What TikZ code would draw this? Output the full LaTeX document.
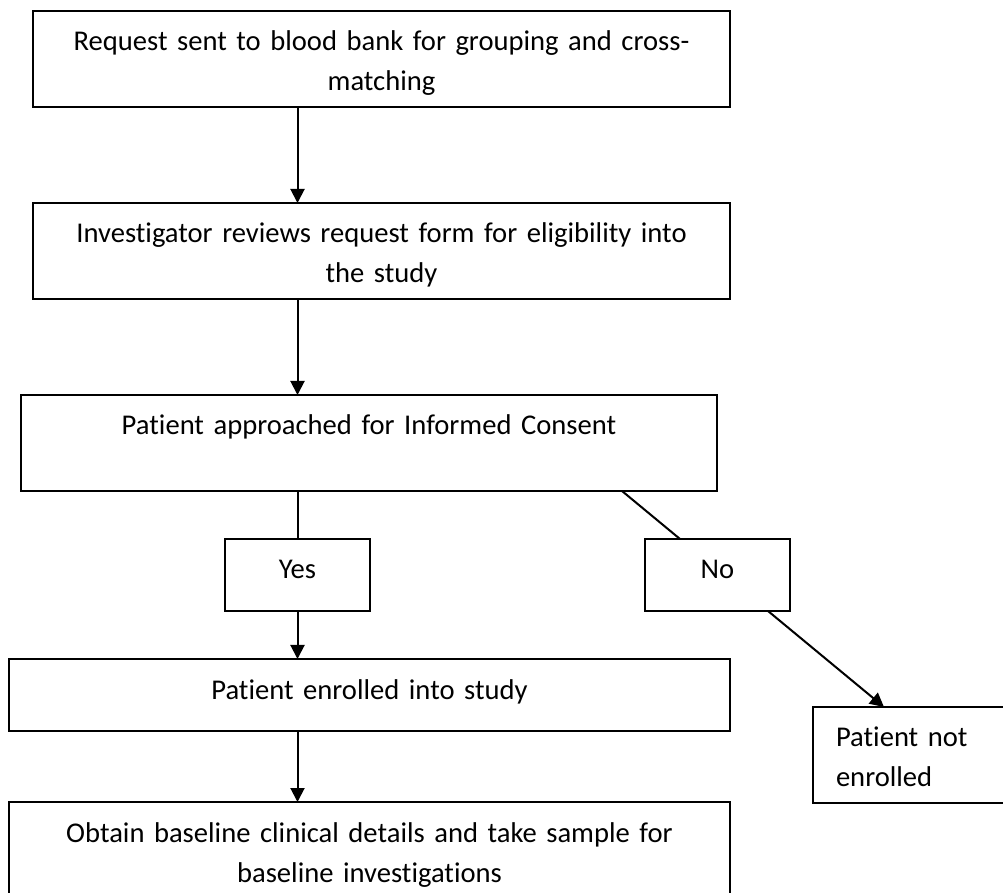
\documentclass[tikz,border=0pt]{standalone}
\usepackage{fontspec}
\setmainfont{Carlito}[Ligatures=NoCommon]
\usepackage{tikz}
\usetikzlibrary{positioning, arrows.meta}

\begin{document}
\begin{tikzpicture}[
    x=0.5pt, y=-0.5pt,
    font=\fontsize{14.3}{20}\selectfont,
    stepbox/.style={
        rectangle, draw=black, line width=1pt,
        inner xsep=0pt, inner ysep=0pt, outer sep=0pt,
        text height=20pt, text depth=28pt,
        align=center
    },
    answer/.style={
        stepbox, text width=72.5pt, text depth=16pt
    },
    link/.style={line width=1pt},
    arrow/.style={-{Triangle[length=7pt, width=7pt]}, line width=1pt},
]
\useasboundingbox (0,0) rectangle (1003,893);

% ---------- Request ----------
\node[stepbox, text width=348.5pt, anchor=north] (request) at (381.5,11)
    {Request sent to blood bank for grouping and cross-\\matching};

% ---------- Eligibility review ----------
\node[stepbox, text width=348.5pt, below=48pt of request] (review)
    {Investigator reviews request form for eligibility into\\the study};

% ---------- Consent ----------
\node[stepbox, text width=348pt, below=48pt of review, xshift=-6.25pt] (consent)
    {Patient approached for Informed Consent};

% ---------- Answers ----------
\node[answer, below=24pt of consent, xshift=-35.75pt] (yes) {Yes};
\node[answer, right=137.5pt of yes] (no) {No};

% ---------- Outcomes ----------
\node[stepbox, text width=360.5pt, text depth=16pt, below=24pt of yes, xshift=36pt] (enrolled)
    {Patient enrolled into study};
\node[stepbox, text width=360.5pt, below=35.5pt of enrolled] (baseline)
    {Obtain baseline clinical details and take sample for\\baseline investigations};
\node[stepbox, text width=73.5pt, inner xsep=11.5pt, align=left,
      below=48pt of no, xshift=96pt] (notenrolled)
    {Patient not\\enrolled};

% ---------- Arrows ----------
\draw[arrow] (request.south -| yes) -- (review.north -| yes);
\draw[arrow] (review.south -| yes) -- (consent.north -| yes);
\draw[link] (consent.south -| yes) -- (yes.north);
\draw[arrow] (yes.south) -- (enrolled.north -| yes);
\draw[arrow] (enrolled.south -| yes) -- (baseline.north -| yes);

\draw[link] ([xshift=126.5pt]consent.south) -- ([xshift=-18.75pt]no.north);
\draw[arrow] ([xshift=25.25pt]no.south) -- ([xshift=-12.75pt]notenrolled.north);

\end{tikzpicture}
\end{document}
